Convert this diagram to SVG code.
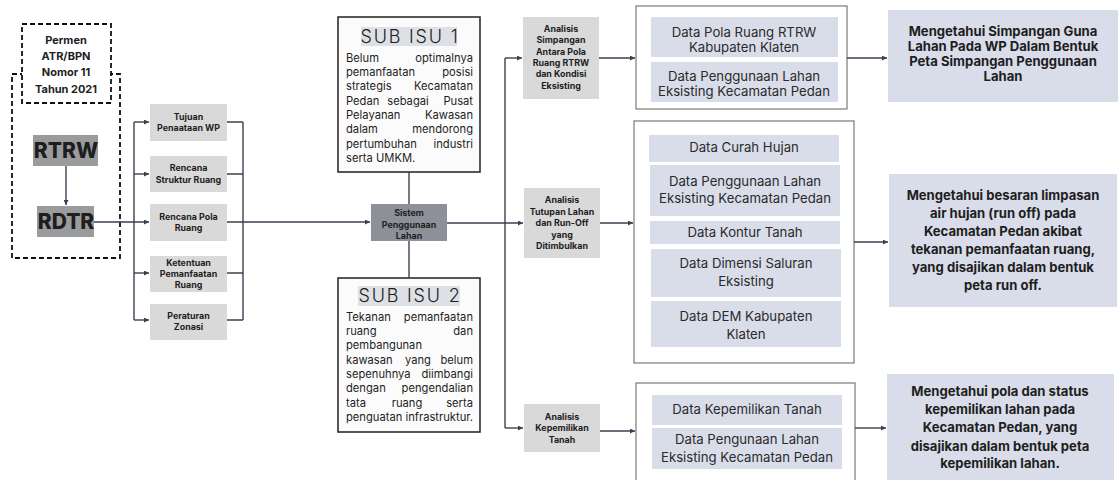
<svg xmlns="http://www.w3.org/2000/svg" width="1120" height="480" viewBox="0 0 1120 480">
  <style>
    text { font-family: Inter, "Noto Sans", "DejaVu Sans", sans-serif; fill: #1e1e1e; }
    .small { font-size: 8.9px; font-weight: 700; text-anchor: middle; }
    .permen { font-size: 11px; font-weight: 700; text-anchor: middle; }
    .big { font-size: 21px; font-weight: 800; text-anchor: middle; }
    .title { font-size: 18px; font-weight: 300; letter-spacing: 1.8px; text-anchor: middle; }
    .body { font-size: 11.2px; }
    .data { font-size: 13.2px; text-anchor: middle; fill: #2a2a2a; }
    .result { font-size: 13.1px; font-weight: 700; text-anchor: middle; }
    .end { text-anchor: end; }
    .mid { text-anchor: middle; }
    .node { fill: #d9d9d9; }
    .hub { fill: #8e9099; }
    .plan { fill: #9a9b9d; }
    .data-box { fill: #d9dde9; }
    .result-box { fill: #d9dce9; }
    .container { fill: #ffffff; stroke: #7a7a7a; stroke-width: 1.2; }
    .issue { fill: #fbfbfb; stroke: #2e2e2e; stroke-width: 1.6; }
    .hl { fill: #dde0e5; }
    .dash { fill: #ffffff; stroke: #111; stroke-width: 1.8; stroke-dasharray: 5 3; }
    .conn { fill: none; stroke: #3c4150; stroke-width: 1.4; }
  </style>
  <defs>
    <marker id="arrow" viewBox="0 0 6 6" refX="6" refY="3" markerWidth="5" markerHeight="5" markerUnits="userSpaceOnUse" orient="auto">
      <path d="M0 0 L6 3 L0 6 z" fill="#3c4150"/>
    </marker>
  </defs>

  <rect width="1120" height="480" fill="#ffffff"/>

  <!-- regulation frame -->
  <g id="frame-regulasi">
    <rect class="dash" x="12" y="74" width="108" height="184"/>
    <rect class="dash" x="22" y="24" width="89" height="79"/>
    <text class="permen" x="66" y="44">Permen</text>
    <text class="permen" x="66" y="60">ATR/BPN</text>
    <text class="permen" x="66" y="76">Nomor 11</text>
    <text class="permen" x="66" y="93">Tahun 2021</text>
  </g>

  <g id="rtrw">
    <rect class="plan" x="33" y="135" width="65" height="31"/>
    <text class="big" x="66" y="158">RTRW</text>
  </g>
  <g id="rdtr">
    <rect class="plan" x="37" y="206" width="57" height="31"/>
    <text class="big" x="66" y="229">RDTR</text>
  </g>

  <!-- RDTR content nodes -->
  <g id="tujuan">
    <rect class="node" x="150" y="104" width="77" height="37"/>
    <text class="small" x="188.5" y="120">Tujuan</text>
    <text class="small" x="188.5" y="131">Penaataan WP</text>
  </g>
  <g id="struktur">
    <rect class="node" x="150" y="156" width="77" height="36"/>
    <text class="small" x="188.5" y="171">Rencana</text>
    <text class="small" x="188.5" y="183">Struktur Ruang</text>
  </g>
  <g id="pola">
    <rect class="node" x="150" y="204" width="77" height="37"/>
    <text class="small" x="188.5" y="220">Rencana Pola</text>
    <text class="small" x="188.5" y="231">Ruang</text>
  </g>
  <g id="ketentuan">
    <rect class="node" x="150" y="256" width="77" height="36"/>
    <text class="small" x="188.5" y="266">Ketentuan</text>
    <text class="small" x="188.5" y="277">Pemanfaatan</text>
    <text class="small" x="188.5" y="288">Ruang</text>
  </g>
  <g id="zonasi">
    <rect class="node" x="150" y="304" width="77" height="36"/>
    <text class="small" x="188.5" y="319">Peraturan</text>
    <text class="small" x="188.5" y="330">Zonasi</text>
  </g>

  <g id="sistem">
    <rect class="hub" x="371" y="204" width="76" height="37"/>
    <text class="small" x="409" y="216">Sistem</text>
    <text class="small" x="409" y="228">Penggunaan</text>
    <text class="small" x="409" y="239">Lahan</text>
  </g>

  <!-- issue boxes -->
  <g id="sub-isu-1">
    <rect class="issue" x="338" y="17" width="142" height="155"/>
    <rect class="hl" x="361" y="27" width="96" height="19"/>
    <text class="title" x="410" y="43">SUB ISU 1</text>
    <text class="body" x="346" y="62">Belum</text><text class="body end" x="473" y="62">optimalnya</text>
    <text class="body" x="346" y="76">pemanfaatan</text><text class="body end" x="473" y="76">posisi</text>
    <text class="body" x="346" y="90">strategis</text><text class="body end" x="473" y="90">Kecamatan</text>
    <text class="body" x="346" y="105">Pedan</text><text class="body mid" x="408" y="105">sebagai</text><text class="body end" x="473" y="105">Pusat</text>
    <text class="body" x="346" y="119">Pelayanan</text><text class="body end" x="473" y="119">Kawasan</text>
    <text class="body" x="346" y="133">dalam</text><text class="body end" x="473" y="133">mendorong</text>
    <text class="body" x="346" y="148">pertumbuhan</text><text class="body end" x="473" y="148">industri</text>
    <text class="body" x="346" y="162">serta UMKM.</text>
  </g>
  <g id="sub-isu-2">
    <rect class="issue" x="338" y="278" width="142" height="154"/>
    <rect class="hl" x="358" y="286" width="102" height="20"/>
    <text class="title" x="410" y="302">SUB ISU 2</text>
    <text class="body" x="346" y="321">Tekanan</text><text class="body end" x="473" y="321">pemanfaatan</text>
    <text class="body" x="346" y="335">ruang</text><text class="body end" x="473" y="335">dan</text>
    <text class="body" x="346" y="349">pembangunan</text>
    <text class="body" x="346" y="364">kawasan</text><text class="body mid" x="418" y="364">yang</text><text class="body end" x="473" y="364">belum</text>
    <text class="body" x="346" y="378">sepenuhnya</text><text class="body end" x="473" y="378">diimbangi</text>
    <text class="body" x="346" y="392">dengan</text><text class="body end" x="473" y="392">pengendalian</text>
    <text class="body" x="346" y="407">tata</text><text class="body mid" x="407" y="407">ruang</text><text class="body end" x="473" y="407">serta</text>
    <text class="body" x="346" y="421" textLength="127" lengthAdjust="spacingAndGlyphs">penguatan infrastruktur.</text>
  </g>

  <!-- analyses -->
  <g id="analisis-simpangan">
    <rect class="node" x="523" y="17" width="76" height="82"/>
    <text class="small" x="561" y="32">Analisis</text>
    <text class="small" x="561" y="43">Simpangan</text>
    <text class="small" x="561" y="55">Antara Pola</text>
    <text class="small" x="561" y="66">Ruang RTRW</text>
    <text class="small" x="561" y="77">dan Kondisi</text>
    <text class="small" x="561" y="89">Eksisting</text>
  </g>
  <g id="analisis-tutupan">
    <rect class="node" x="524" y="188" width="76" height="70"/>
    <text class="small" x="562" y="203">Analisis</text>
    <text class="small" x="562" y="215">Tutupan Lahan</text>
    <text class="small" x="562" y="226">dan Run-Off</text>
    <text class="small" x="562" y="238">yang</text>
    <text class="small" x="562" y="249">Ditimbulkan</text>
  </g>
  <g id="analisis-kepemilikan">
    <rect class="node" x="524" y="404" width="76" height="48"/>
    <text class="small" x="562" y="420">Analisis</text>
    <text class="small" x="562" y="431">Kepemilikan</text>
    <text class="small" x="562" y="443">Tanah</text>
  </g>

  <!-- data groups -->
  <g id="data-simpangan">
    <rect class="container" x="636" y="6" width="211" height="103"/>
    <rect class="data-box" x="651" y="17" width="187" height="40"/>
    <text class="data" x="744" y="37">Data Pola Ruang RTRW</text>
    <text class="data" x="744" y="52">Kabupaten Klaten</text>
    <rect class="data-box" x="651" y="62" width="187" height="40"/>
    <text class="data" x="744" y="81">Data Penggunaan Lahan</text>
    <text class="data" x="744" y="96">Eksisting Kecamatan Pedan</text>
  </g>
  <g id="data-tutupan">
    <rect class="container" x="634" y="121" width="220" height="242"/>
    <rect class="data-box" x="649" y="135" width="190" height="27"/>
    <text class="data" x="744" y="152">Data Curah Hujan</text>
    <rect class="data-box" x="650" y="165" width="190" height="51"/>
    <text class="data" x="745" y="186">Data Penggunaan Lahan</text>
    <text class="data" x="745" y="203">Eksisting Kecamatan Pedan</text>
    <rect class="data-box" x="650" y="221" width="190" height="23"/>
    <text class="data" x="745" y="237">Data Kontur Tanah</text>
    <rect class="data-box" x="651" y="249" width="190" height="48"/>
    <text class="data" x="746" y="268">Data Dimensi Saluran</text>
    <text class="data" x="746" y="286">Eksisting</text>
    <rect class="data-box" x="651" y="301" width="190" height="46"/>
    <text class="data" x="746" y="321">Data DEM Kabupaten</text>
    <text class="data" x="746" y="339">Klaten</text>
  </g>
  <g id="data-kepemilikan">
    <rect class="container" x="636" y="383" width="219" height="110"/>
    <rect class="data-box" x="652" y="395" width="190" height="30"/>
    <text class="data" x="747" y="414">Data Kepemilikan Tanah</text>
    <rect class="data-box" x="652" y="428" width="190" height="41"/>
    <text class="data" x="747" y="444">Data Pengunaan Lahan</text>
    <text class="data" x="747" y="462">Eksisting Kecamatan Pedan</text>
  </g>

  <!-- outcomes -->
  <g id="hasil-simpangan">
    <rect class="result-box" x="888" y="10" width="230" height="92"/>
    <text class="result" x="1003" y="36">Mengetahui Simpangan Guna</text>
    <text class="result" x="1003" y="51">Lahan Pada WP Dalam Bentuk</text>
    <text class="result" x="1003" y="66">Peta Simpangan Penggunaan</text>
    <text class="result" x="1003" y="81">Lahan</text>
  </g>
  <g id="hasil-runoff">
    <rect class="result-box" x="889" y="174" width="228" height="133"/>
    <text class="result" x="1003" y="200">Mengetahui besaran limpasan</text>
    <text class="result" x="1003" y="218">air hujan (run off) pada</text>
    <text class="result" x="1003" y="236">Kecamatan Pedan akibat</text>
    <text class="result" x="1003" y="254">tekanan pemanfaatan ruang,</text>
    <text class="result" x="1003" y="272">yang disajikan dalam bentuk</text>
    <text class="result" x="1003" y="290">peta run off.</text>
  </g>
  <g id="hasil-kepemilikan">
    <rect class="result-box" x="887" y="374" width="227" height="112"/>
    <text class="result" x="1000" y="396">Mengetahui pola dan status</text>
    <text class="result" x="1000" y="414">kepemilikan lahan pada</text>
    <text class="result" x="1000" y="432">Kecamatan Pedan, yang</text>
    <text class="result" x="1000" y="451">disajikan dalam bentuk peta</text>
    <text class="result" x="1000" y="468">kepemilikan lahan.</text>
  </g>

  <!-- connectors -->
  <g id="connectors" class="conn">
    <path d="M66 166 V205" marker-end="url(#arrow)"/>
    <path d="M94 222 H149" marker-end="url(#arrow)"/>
    <path d="M134 122 V320"/>
    <path d="M134 122 H149" marker-end="url(#arrow)"/>
    <path d="M134 174 H149" marker-end="url(#arrow)"/>
    <path d="M134 273 H149" marker-end="url(#arrow)"/>
    <path d="M134 320 H149" marker-end="url(#arrow)"/>
    <path d="M227 122 H243 M227 174 H243 M227 222 H243 M227 273 H243 M227 320 H243"/>
    <path d="M243 122 V320"/>
    <path d="M243 222 H370" marker-end="url(#arrow)"/>
    <path d="M409 172 V204"/>
    <path d="M409 241 V278"/>
    <path d="M447 223 H523" marker-end="url(#arrow)"/>
    <path d="M505 58 V428"/>
    <path d="M505 58 H522" marker-end="url(#arrow)"/>
    <path d="M505 428 H523" marker-end="url(#arrow)"/>
    <path d="M599 58 H635" marker-end="url(#arrow)"/>
    <path d="M600 223 H633" marker-end="url(#arrow)"/>
    <path d="M600 431 H635" marker-end="url(#arrow)"/>
    <path d="M847 58 H887" marker-end="url(#arrow)"/>
    <path d="M854 242 H888" marker-end="url(#arrow)"/>
    <path d="M855 428 H886" marker-end="url(#arrow)"/>
  </g>
</svg>
